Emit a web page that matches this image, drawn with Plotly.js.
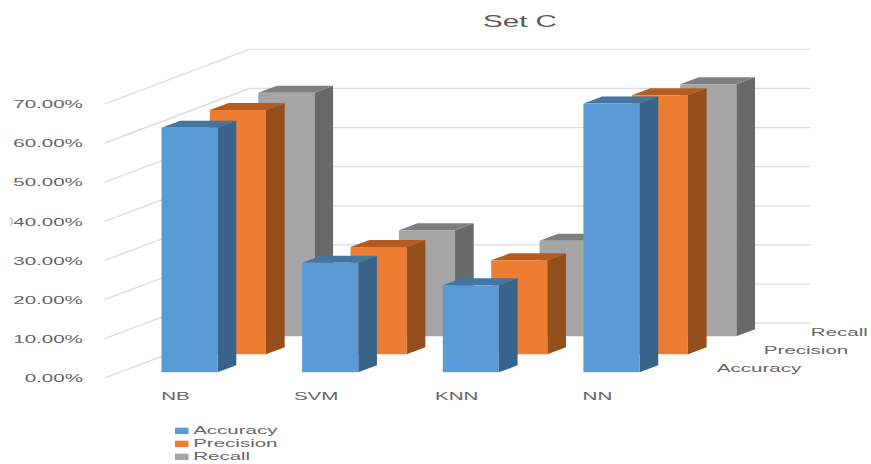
<!DOCTYPE html>
<html>
<head>
<meta charset="utf-8">
<script src="https://cdn.plot.ly/plotly-3.0.1.min.js"></script>
<style>
  html, body { margin: 0; padding: 0; background: #fff; overflow: hidden; }
  #chart { transform: scaleX(1.74); transform-origin: 0 0; }
</style>
</head>
<body>
<div id="chart"></div>
<script>
// Classifier scores for data set C
const categories = ['NB', 'SVM', 'KNN', 'NN'];
const seriesNames = ['Accuracy', 'Precision', 'Recall'];
const accuracy = [0.625, 0.280, 0.2225, 0.687];
const precision = [0.624, 0.274, 0.240, 0.662];
const recall = [0.622, 0.271, 0.244, 0.644];
const seriesValues = [accuracy, precision, recall];
const valueTicks = [0, 0.1, 0.2, 0.3, 0.4, 0.5, 0.6, 0.7];

const faceColors = [
  { front: '#5B9BD5', side: '#376488', top: '#4575A3' },
  { front: '#ED7D31', side: '#954F1C', top: '#B55D20' },
  { front: '#A5A5A5', side: '#696969', top: '#7F7F7F' }
];

// The page is laid out narrow and stretched sideways by the CSS transform
const stretch = 1.74;
const pageW = 871, pageH = 464;
const plotLeft = 105, plotTop = 40, zeroLine = 377.7;
const pxPerCategory = 140.4, pxPerUnit = 391, firstCentre = 190;

const xRange = [(plotLeft - firstCentre) / pxPerCategory, (pageW - firstCentre) / pxPerCategory];
const yRange = [0, (zeroLine - plotTop) / pxPerUnit];

// Oblique depth offsets, in axis units
const halfWidth = 0.1995;
const barDepth = { x: 0.133, y: 0.0179 };
const rowStep = { x: 0.344, y: 0.046 };
const rowStart = 0.0146;
const wallDepth = { x: 1.032, y: 0.14 };
const wallEndX = (810 - firstCentre) / pxPerCategory;

const paperX = px => (px - plotLeft) / (pageW - plotLeft);
const paperY = py => (zeroLine - py) / (zeroLine - plotTop);

const traces = [];

// Slanted side wall and flat back wall gridlines
valueTicks.forEach(v => {
  traces.push({
    type: 'scatter', mode: 'lines', hoverinfo: 'skip', showlegend: false,
    x: [xRange[0], xRange[0] + wallDepth.x, wallEndX],
    y: [v, v + wallDepth.y, v + wallDepth.y],
    line: { color: '#DCDCDC', width: 1.2 }
  });
});

function face(xs, ys, color, name) {
  traces.push({
    type: 'scatter', mode: 'lines', fill: 'toself', fillcolor: color,
    x: xs, y: ys, name: name, showlegend: false, hoverinfo: 'skip',
    line: { width: 0, color: color }
  });
}

// Back row first so nearer bars cover it
for (let row = seriesValues.length - 1; row >= 0; row--) {
  const c = faceColors[row];
  seriesValues[row].forEach((value, i) => {
    const x0 = i - halfWidth + row * rowStep.x;
    const x1 = i + halfWidth + row * rowStep.x;
    const y0 = rowStart + row * rowStep.y;
    const y1 = y0 + value;
    const dx = barDepth.x, dy = barDepth.y;
    face([x1, x1 + dx, x1 + dx, x1, x1], [y0, y0 + dy, y1 + dy, y1, y0], c.side, seriesNames[row]);
    face([x0, x0 + dx, x1 + dx, x1, x0], [y1, y1 + dy, y1 + dy, y1, y1], c.top, seriesNames[row]);
    face([x0, x1, x1, x0, x0], [y0, y0, y1, y1, y0], c.front, seriesNames[row]);
  });
}

const textColor = '#666666';
const textFont = { family: 'Liberation Sans, Arial, sans-serif', size: 11.8, color: textColor };
const annotations = [];
const shapes = [];

// Depth axis labels follow the rows of bars
seriesNames.forEach((name, row) => {
  annotations.push({
    xref: 'x', yref: 'y',
    x: (716 - firstCentre) / pxPerCategory + row * 0.338,
    y: (zeroLine - 367.5) / pxPerUnit + row * rowStep.y,
    text: name, showarrow: false, xanchor: 'left', yanchor: 'middle', xshift: -2, font: textFont
  });
});

// Stacked key under the first categories
const keyRows = [430.5, 443.5, 456.5];
seriesNames.forEach((name, row) => {
  shapes.push({
    type: 'rect', xref: 'paper', yref: 'paper', line: { width: 0 },
    fillcolor: faceColors[row].front,
    x0: paperX(175.5), x1: paperX(189),
    y0: paperY(keyRows[row] + 3.2), y1: paperY(keyRows[row] - 3.2)
  });
  annotations.push({
    xref: 'paper', yref: 'paper', x: paperX(193), y: paperY(keyRows[row] - 0.5),
    text: name, showarrow: false, xanchor: 'left', yanchor: 'middle', xshift: -2, font: textFont
  });
});

// Small mark left of the 40% tick label
annotations.push({
  xref: 'paper', yref: 'paper', x: paperX(12), y: paperY(221),
  text: ')', showarrow: false, xanchor: 'center', yanchor: 'middle',
  font: { family: textFont.family, size: 9, color: '#C4C4C4' }
});

const layout = {
  width: pageW / stretch,
  height: pageH,
  margin: { l: plotLeft / stretch, r: 0, t: plotTop, b: pageH - zeroLine, pad: 0 },
  paper_bgcolor: '#FFFFFF',
  plot_bgcolor: '#FFFFFF',
  showlegend: false,
  title: {
    text: 'Set C',
    x: 520 / pageW, xanchor: 'center',
    y: 1 - 21 / pageH, yanchor: 'middle',
    font: { family: textFont.family, size: 17, color: '#595959' }
  },
  xaxis: {
    range: xRange, showgrid: false, zeroline: false, showline: false,
    tickmode: 'array',
    tickvals: categories.map((_, i) => i - 0.1),
    ticktext: categories,
    ticks: 'outside', ticklen: 7, tickcolor: 'rgba(0,0,0,0)',
    tickfont: textFont
  },
  yaxis: {
    range: yRange, showgrid: false, zeroline: false, showline: false,
    tickmode: 'array',
    tickvals: valueTicks,
    tickformat: '.2%',
    ticks: 'outside', ticklen: 9, tickcolor: 'rgba(0,0,0,0)',
    tickfont: textFont
  },
  annotations: annotations,
  shapes: shapes
};

Plotly.newPlot('chart', traces, layout, { displayModeBar: false, staticPlot: true });
</script>
</body>
</html>
